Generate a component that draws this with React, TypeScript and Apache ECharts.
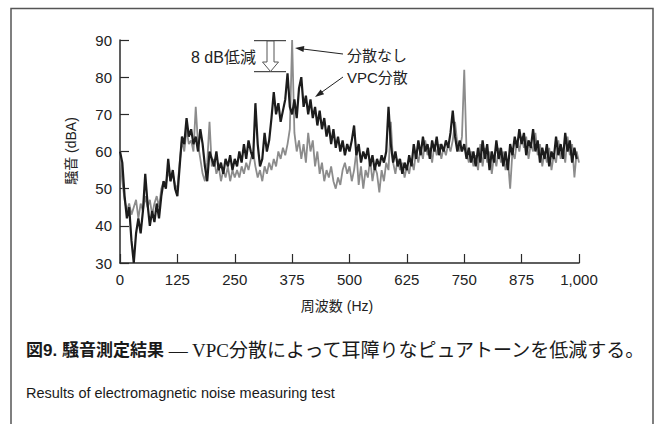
import React, { useEffect, useRef } from "react";
import * as echarts from "echarts";

const STEP_HZ = 5;
const xTicks = [0, 125, 250, 375, 500, 625, 750, 875, 1000];
const yTicks = [30, 40, 50, 60, 70, 80, 90];

// VPC分散 (dark)
const vpcValues = [
  60, 57, 48, 42, 45, 36, 30, 38, 42, 38, 44, 54, 46, 40, 44, 41, 46, 42, 48, 52, 50, 58, 52, 55, 50, 48,
  56, 64, 62, 69, 64, 66, 62, 64, 60, 66, 62, 56, 52, 60, 58, 56, 60, 55, 57, 54, 58, 56, 59, 55, 58,
  56, 60, 57, 62, 58, 63, 60, 58, 73, 62, 56, 58, 65, 60, 63, 69, 76, 70, 73, 68, 71, 74, 81, 72,
  70, 74, 69, 77, 80, 72, 75, 70, 74, 69, 72, 67, 71, 66, 69, 64, 67, 62, 66, 61, 64, 60, 63, 59, 62,
  60, 63, 67, 59, 62, 57, 60, 58, 61, 56, 59, 55, 58, 56, 59, 57, 60, 72, 62, 57, 60, 56, 58, 54, 57,
  55, 59, 56, 62, 58, 63, 59, 64, 60, 62, 58, 63, 60, 64, 59, 62, 60, 63, 61, 65, 71, 64, 60, 63, 60,
  62, 58, 61, 57, 60, 56, 61, 57, 63, 58, 62, 55, 60, 57, 63, 58, 61, 56, 60, 55, 62, 59, 64, 61, 66,
  62, 65, 59, 63, 61, 66, 60, 63, 57, 61, 58, 62, 56, 60, 58, 64, 59, 62, 58, 65, 60, 63, 57, 61, 58,
];

// 分散なし (gray)
const noDispersionValues = [
  60, 52, 47, 44, 46, 43, 45, 47, 42, 46, 44, 48, 45, 47, 43, 46, 48, 45, 50, 52, 51, 55, 52, 54, 51, 50,
  57, 63, 60, 66, 62, 63, 60, 72, 62, 58, 54, 52, 57, 68, 56, 58, 54, 56, 52, 55, 53, 56, 52, 55, 53,
  55, 53, 56, 54, 57, 55, 58, 60, 56, 53, 55, 52, 56, 54, 57, 55, 58, 56, 60, 58, 61, 59, 62, 66, 90,
  65, 60, 63, 58, 62, 57, 65, 60, 63, 56, 60, 54, 57, 52, 55, 53, 56, 52, 50, 53, 51, 55, 57, 54, 56,
  52, 55, 60, 51, 56, 50, 55, 53, 58, 52, 56, 54, 49, 55, 52, 57, 55, 68, 57, 54, 58, 55, 57, 53, 56,
  54, 58, 55, 60, 57, 61, 58, 63, 59, 61, 57, 62, 59, 62, 58, 61, 59, 62, 60, 63, 68, 62, 60, 64, 82,
  60, 57, 60, 56, 59, 55, 62, 56, 61, 57, 60, 54, 59, 56, 61, 57, 60, 55, 58, 50, 60, 58, 63, 60, 64,
  61, 64, 58, 62, 60, 65, 59, 62, 56, 60, 57, 61, 55, 59, 57, 63, 58, 61, 57, 64, 59, 62, 53, 60, 57,
];

const vpcName = "VPC分散";
const noDispName = "分散なし";
const yAxisTitle = "騒音 (dBA)";
const xAxisTitle = "周波数 (Hz)";
const reductionLabel = "8 dB低減";
const captionBold = "図9. 騒音測定結果";
const captionRest = " — VPC分散によって耳障りなピュアトーンを低減する。";
const captionEn = "Results of electromagnetic noise measuring test";

const SANS = "'Liberation Sans', Arial, 'Noto Sans CJK JP', sans-serif";
const SERIF = "'Liberation Serif', 'DejaVu Serif', 'Noto Sans CJK JP', serif";

function toPairs(vals: number[]) {
  return vals.map((v, i) => [i * STEP_HZ, v]);
}

export default function App() {
  const ref = useRef<HTMLDivElement>(null);
  useEffect(() => {
    if (!ref.current) return;
    const chart = echarts.init(ref.current, null, { renderer: "svg" });
    const axisCol = "#2a2a2a";
    chart.setOption({
      animation: false,
      backgroundColor: "#ffffff",
      grid: { left: 120, right: 76, top: 40, bottom: 161 },
      xAxis: {
        type: "value",
        min: 0,
        max: 1000,
        interval: 125,
        axisLine: { show: true, lineStyle: { color: axisCol, width: 1.5 } },
        axisTick: { show: true, inside: true, length: 9, lineStyle: { color: axisCol, width: 1.2 } },
        splitLine: { show: false },
        axisLabel: {
          color: "#222",
          fontFamily: SANS,
          fontSize: 15,
          margin: 9,
          formatter: (v: number) => (xTicks.includes(v) ? (v === 1000 ? "1,000" : String(v)) : ""),
        },
      },
      yAxis: {
        type: "value",
        min: 30,
        max: 90,
        interval: 10,
        axisLine: { show: true, lineStyle: { color: axisCol, width: 1.5 } },
        axisTick: { show: true, inside: true, length: 9, lineStyle: { color: axisCol, width: 1.2 } },
        splitLine: { show: false },
        axisLabel: {
          color: "#222",
          fontFamily: SANS,
          fontSize: 15,
          margin: 8,
          formatter: (v: number) => (yTicks.includes(v) ? String(v) : ""),
        },
      },
      series: [
        {
          name: noDispName,
          type: "line",
          data: toPairs(noDispersionValues),
          showSymbol: false,
          lineStyle: { color: "#8c8c8c", width: 1.8 },
          z: 2,
        },
        {
          name: vpcName,
          type: "line",
          data: toPairs(vpcValues),
          showSymbol: false,
          lineStyle: { color: "#1c1c1c", width: 2.2 },
          z: 3,
        },
      ],
      graphic: [
        {
          type: "polyline",
          shape: { points: [[11, 424], [11, 8.5], [653, 8.5], [653, 424]] },
          style: { stroke: "#555", lineWidth: 1.5, fill: "none" },
          silent: true,
        },
        {
          type: "text",
          x: 71,
          y: 151,
          rotation: Math.PI / 2,
          style: {
            text: yAxisTitle,
            fontFamily: SANS,
            fontSize: 14,
            fill: "#222",
            align: "center",
            verticalAlign: "middle",
          },
        },
        {
          type: "text",
          x: 337,
          y: 306,
          style: {
            text: xAxisTitle,
            fontFamily: SANS,
            fontSize: 14,
            fill: "#222",
            align: "center",
            verticalAlign: "middle",
          },
        },
        {
          type: "text",
          x: 191,
          y: 57,
          style: {
            text: reductionLabel,
            fontFamily: SANS,
            fontSize: 16,
            fill: "#222",
            align: "left",
            verticalAlign: "middle",
          },
        },
        { type: "line", shape: { x1: 254, y1: 40.7, x2: 286, y2: 40.7 }, style: { stroke: "#222", lineWidth: 1 } },
        { type: "line", shape: { x1: 254, y1: 71.7, x2: 286, y2: 71.7 }, style: { stroke: "#222", lineWidth: 1 } },
        {
          type: "polygon",
          shape: {
            points: [[267, 41], [274, 41], [274, 62], [278.5, 62], [270.5, 71.5], [262.5, 62], [267, 62]],
          },
          style: { fill: "#fff", stroke: "#555", lineWidth: 1 },
        },
        {
          type: "text",
          x: 347,
          y: 55,
          style: { text: noDispName, fontFamily: SANS, fontSize: 15, fill: "#222", align: "left", verticalAlign: "middle" },
        },
        {
          type: "text",
          x: 347,
          y: 77,
          style: { text: vpcName, fontFamily: SANS, fontSize: 15, fill: "#222", align: "left", verticalAlign: "middle" },
        },
        { type: "line", shape: { x1: 343, y1: 54, x2: 302, y2: 48.9 }, style: { stroke: "#222", lineWidth: 1 } },
        {
          type: "polygon",
          shape: { points: [[295, 48], [304.3, 46.1], [303.5, 52.1]] },
          style: { fill: "#222" },
        },
        { type: "line", shape: { x1: 343, y1: 77, x2: 321, y2: 92.7 }, style: { stroke: "#222", lineWidth: 1 } },
        {
          type: "polygon",
          shape: { points: [[315, 97], [324.1, 94.2], [320.6, 89.4]] },
          style: { fill: "#222" },
        },
        {
          type: "text",
          x: 26,
          y: 350,
          style: {
            text: "{b|" + captionBold + "}{s|" + captionRest + "}",
            verticalAlign: "middle",
            align: "left",
            rich: {
              b: { fontFamily: SANS, fontWeight: "bold", fontSize: 17, fill: "#1a1a1a" },
              s: { fontFamily: SERIF, fontSize: 19, fill: "#1a1a1a" },
            },
          },
        },
        {
          type: "text",
          x: 26,
          y: 393,
          style: {
            text: captionEn,
            fontFamily: SANS,
            fontSize: 14.5,
            fill: "#1a1a1a",
            align: "left",
            verticalAlign: "middle",
          },
        },
      ],
    });
    return () => chart.dispose();
  }, []);
  return (
    <div
      ref={ref}
      style={{ position: "fixed", left: 0, top: 0, width: 655, height: 424, background: "#fff" }}
    />
  );
}
